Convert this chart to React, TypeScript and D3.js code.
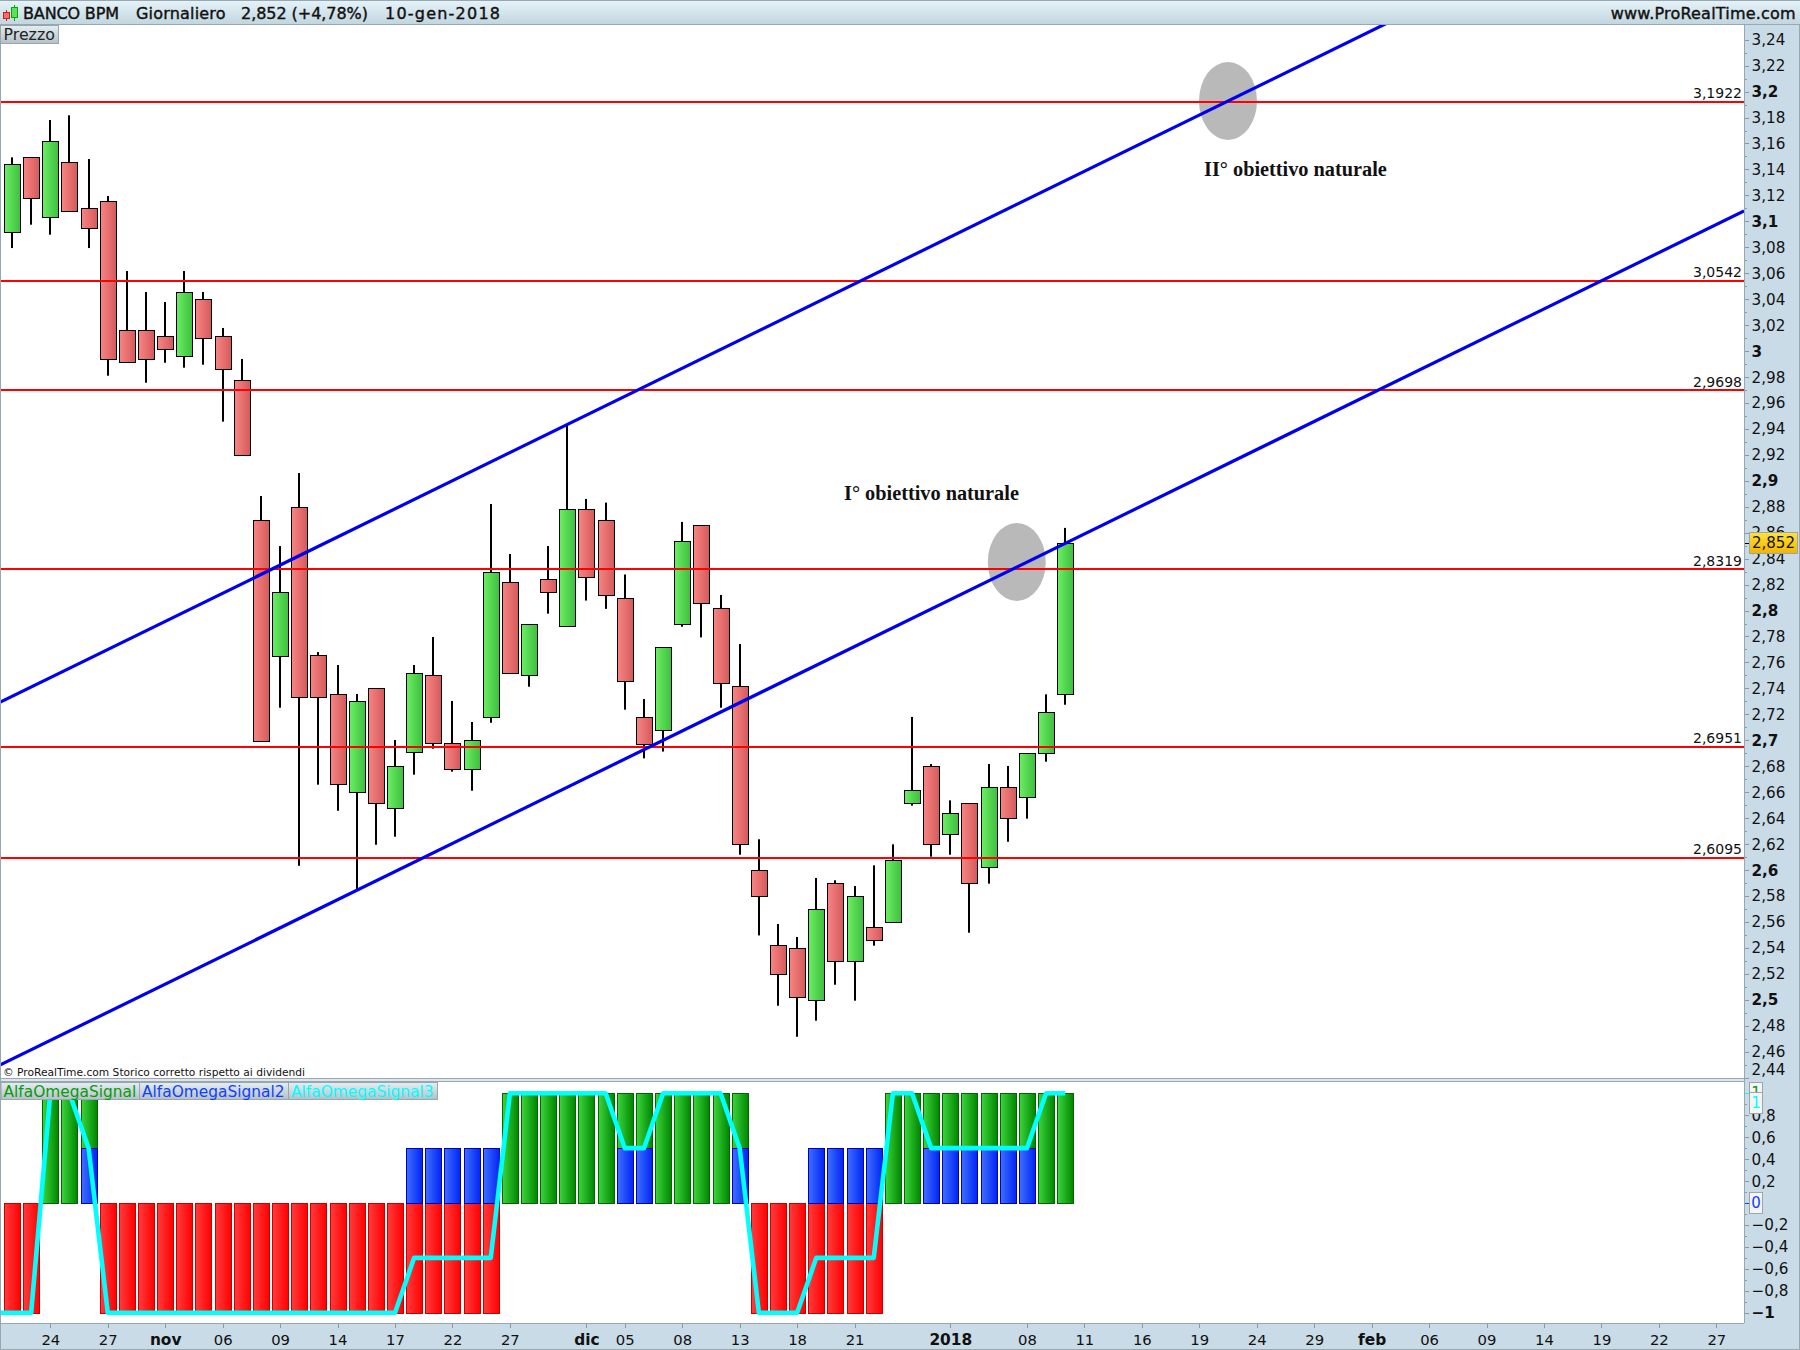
import React from "react";
import * as d3 from "d3";

const opens = [3.0915,3.1493,3.1036,3.1455,3.11,3.1154,3.016,3.016,3.0114,2.996,3.0399,3.0114,2.9775,2.8696,2.7652,2.8796,2.7655,2.7354,2.6599,2.7401,2.6476,2.6912,2.7501,2.6977,2.6776,2.7177,2.8218,2.7501,2.8241,2.7881,2.878,2.8695,2.8095,2.7178,2.7078,2.7894,2.8659,2.8016,2.7415,2.5999,2.542,2.5397,2.4996,2.5898,2.5296,2.5559,2.5597,2.6514,2.6799,2.6275,2.6514,2.6021,2.6638,2.6561,2.69,2.7354];
const closes = [3.144,3.1178,3.1617,3.1077,3.0951,2.9937,2.9913,2.9937,3.0014,3.0453,3.0098,2.9859,2.9197,2.6997,2.8141,2.7336,2.7336,2.6661,2.7301,2.6514,2.6799,2.7516,2.6977,2.6776,2.7,2.8295,2.7516,2.7894,2.8141,2.8783,2.8256,2.8116,2.7455,2.6974,2.7717,2.8534,2.8055,2.744,2.6201,2.5798,2.5196,2.5019,2.5697,2.5296,2.5798,2.5458,2.6075,2.6615,2.6198,2.6437,2.5898,2.6638,2.6399,2.69,2.7216,2.852];
const highs = [3.1493,3.1493,3.1781,3.1817,3.148,3.1195,3.0617,3.0455,3.0378,3.0617,3.0455,3.0178,2.9939,2.8883,2.8497,2.906,2.768,2.758,2.7357,2.7401,2.7002,2.758,2.7796,2.7303,2.7141,2.8821,2.8436,2.7894,2.8497,2.9432,2.886,2.8832,2.8278,2.7318,2.7717,2.8683,2.8659,2.812,2.7742,2.6237,2.5584,2.5484,2.5939,2.5921,2.5877,2.6036,2.6198,2.718,2.6817,2.6537,2.6514,2.6817,2.6802,2.69,2.7354,2.8637];
const lows = [3.0794,3.0974,3.0897,3.1077,3.0794,2.981,2.9913,2.9756,2.991,2.9872,2.9895,2.9456,2.9197,2.6997,2.7251,2.6033,2.6658,2.6457,2.5846,2.6195,2.6257,2.6735,2.6935,2.6758,2.6611,2.7135,2.7516,2.7413,2.7976,2.7881,2.8077,2.8013,2.7236,2.6861,2.6913,2.7875,2.7793,2.7251,2.6118,2.5496,2.4954,2.4715,2.4839,2.5116,2.4993,2.5417,2.5597,2.6496,2.6103,2.6118,2.5517,2.5895,2.6218,2.6396,2.6835,2.7274];

const signal1 = [-1,-1,1,1,1,-1,-1,-1,-1,-1,-1,-1,-1,-1,-1,-1,-1,-1,-1,-1,-1,-1,-1,-1,-1,-1,1,1,1,1,1,1,1,1,1,1,1,1,1,-1,-1,-1,-1,-1,-1,-1,1,1,1,1,1,1,1,1,1,1];
const signal2 = [0,0,0,0,0.5,0,0,0,0,0,0,0,0,0,0,0,0,0,0,0,0,0.5,0.5,0.5,0.5,0.5,0,0,0,0,0,0,0.5,0.5,0,0,0,0,0.5,0,0,0,0.5,0.5,0.5,0.5,0,0,0.5,0.5,0.5,0.5,0.5,0.5,0,0];
const signal3 = [-1,-1,1,1,0.5,-1,-1,-1,-1,-1,-1,-1,-1,-1,-1,-1,-1,-1,-1,-1,-1,-0.5,-0.5,-0.5,-0.5,-0.5,1,1,1,1,1,1,0.5,0.5,1,1,1,1,0.5,-1,-1,-1,-0.5,-0.5,-0.5,-0.5,1,1,0.5,0.5,0.5,0.5,0.5,0.5,1,1];

const levels = [3.1922,3.0542,2.9698,2.8319,2.6951,2.6095];
const levelLabels = ["3,1922","3,0542","2,9698","2,8319","2,6951","2,6095"];
const trendUpper = [[-0.627,2.7293],[73,3.2614]];
const trendLower = [[-0.627,2.4497],[90.45,3.108]];
const targets = [[52.47,2.8374],[63.5,3.1928]];
const notes = ["I° obiettivo naturale","II° obiettivo naturale"];
const noteAnchors = [[43.45,2.885],[62.25,3.135]];

const priceTicks = [3.24,3.22,3.2,3.18,3.16,3.14,3.12,3.1,3.08,3.06,3.04,3.02,3,2.98,2.96,2.94,2.92,2.9,2.88,2.86,2.84,2.82,2.8,2.78,2.76,2.74,2.72,2.7,2.68,2.66,2.64,2.62,2.6,2.58,2.56,2.54,2.52,2.5,2.48,2.46,2.44];
const signalTicks = [0.8,0.6,0.4,0.2,0,-0.2,-0.4,-0.6,-0.8,-1];
const xTickBars = [2,5,8,11,14,17,20,23,26,30,32,35,38,41,44,49,53,56,59,62,65,68,71,74,77,80,83,86,89];
const xTickLabels = ["24","27","nov","06","09","14","17","22","27","dic","05","08","13","18","21","2018","08","11","16","19","24","29","feb","06","09","14","19","22","27"];
const boldX = new Set(["nov","dic","2018","feb"]);
const headerTexts = ["BANCO BPM","Giornaliero","2,852 (+4,78%)","10-gen-2018"];
const headerX = [23,136,241,385];
const headerW = [96,89.5,127,115];

const W = 1800, H = 1350, PR = 1744, PT = 25, PB = 1078, IT = 1082, IB = 1323;
const FONT = "'DejaVu Sans', sans-serif";
const INK = "#111";

const x = d3.scaleLinear().domain([0, 89]).range([12, 1716.3]);
const y = d3.scaleLinear().domain([3.1922, 2.6095]).range([101.7, 857.7]);
const s = d3.scaleLinear().domain([1, -1]).range([1093.3, 1312.7]);
const cx = (i: number) => Math.round(x(i));
const comma = (v: number) => String(+v.toFixed(2)).replace(".", ",").replace("-", "−");

const linePath = d3.line<number[]>().x((d) => x(d[0])).y((d) => y(d[1]));
const signalPath = d3.line<number>().x((_, i) => (i === 0 ? 0 : x(i - 1))).y((d) => s(d));

function Grad({ id, a, b, vertical = false }: any) {
  return (
    <linearGradient id={id} x1="0" y1="0" x2={vertical ? 0 : 1} y2={vertical ? 1 : 0}>
      <stop offset="0" stopColor={a} />
      <stop offset="1" stopColor={b} />
    </linearGradient>
  );
}

function HistBar({ i, v, fill, stroke }: any) {
  const top = Math.round(s(Math.max(v, 0)));
  const bot = Math.round(s(Math.min(v, 0)));
  return <rect x={cx(i) - 7.5} y={top + 0.5} width={16} height={bot - top} fill={fill} stroke={stroke} strokeWidth={1} shapeRendering="crispEdges" />;
}

function Tag({ x0, y0, w, h, fill, text, color }: any) {
  return (
    <g>
      <rect x={x0 + 0.5} y={y0 + 0.5} width={w} height={h} fill={fill} stroke="#9aa6ae" />
      <text x={x0 + w / 2 + 0.5} y={y0 + h / 2 + 5.5} textAnchor="middle" fontSize={15} fontFamily={FONT} fill={color}>{text}</text>
    </g>
  );
}

export default function App() {
  const lastY = y(closes[closes.length - 1]);
  return (
    <svg width={W} height={H} viewBox={`0 0 ${W} ${H}`} style={{ position: "fixed", left: 0, top: 0, display: "block", background: "#fff" }}>
      <defs>
        <Grad id="cRed" a="#f88484" b="#d45a5a" />
        <Grad id="cGreen" a="#6cee64" b="#3ebe3e" />
        <Grad id="hRed" a="#ff3c3c" b="#ff0000" />
        <Grad id="hGreen" a="#3cd43c" b="#008600" />
        <Grad id="hBlue" a="#3e70ff" b="#0024f4" />
        <Grad id="head" a="#e6f4f9" b="#c2d6df" vertical />
        <Grad id="legend" a="#e4eef2" b="#b4c0c8" vertical />
        <Grad id="gold" a="#ffe23a" b="#f4b400" vertical />
        <clipPath id="pricePlot"><rect x={1} y={PT} width={PR - 1} height={PB - PT} /></clipPath>
        <clipPath id="sigPlot"><rect x={1} y={IT} width={PR - 1} height={IB - IT} /></clipPath>
      </defs>

      {/* frame */}
      <rect x={0} y={0} width={W} height={H} fill="#c9dbe6" />
      <rect x={1} y={PT} width={PR - 1} height={PB - PT} fill="#fff" />
      <rect x={1} y={IT} width={PR - 1} height={IB - IT} fill="#fff" />
      <rect x={0} y={PB} width={PR} height={4} fill="#dfe6ea" />
      <rect x={0} y={PB} width={PR} height={1} fill="#97a8b2" />
      <rect x={0} y={IT - 1} width={PR} height={1} fill="#97a8b2" />
      <rect x={0} y={IB} width={PR} height={1} fill="#97a8b2" />
      <rect x={PR} y={PT} width={1} height={IB - PT} fill="#97a8b2" />
      <rect x={0} y={0} width={1} height={H} fill="#97a8b2" />
      <rect x={W - 1} y={0} width={1} height={H} fill="#97a8b2" />
      <rect x={0} y={H - 1} width={W} height={1} fill="#97a8b2" />

      {/* header */}
      <rect x={0} y={0} width={W} height={24} fill="url(#head)" />
      <rect x={0} y={0} width={W} height={1} fill="#97a8b2" />
      <rect x={0} y={24} width={W} height={1} fill="#97a8b2" />
      <g shapeRendering="crispEdges">
        <rect x={6} y={10} width={1} height={11} fill="#c22" />
        <rect x={3.5} y={12.5} width={6} height={6} fill="#f07070" stroke="#c22" />
        <rect x={14} y={5} width={1} height={16} fill="#0a0" />
        <rect x={11.5} y={7.5} width={6} height={10} fill="#5ee05e" stroke="#0a0" />
      </g>
      <g fontFamily={FONT} fontSize={16} fill={INK} stroke={INK} strokeWidth={0.4}>
        {headerTexts.map((t, k) => (
          <text key={t} x={headerX[k]} y={18.5} textLength={headerW[k]} lengthAdjust="spacing">{t}</text>
        ))}
        <text x={1795.7} y={18.5} textAnchor="end" textLength={185} lengthAdjust="spacing">www.ProRealTime.com</text>
      </g>

      {/* target ellipses */}
      {targets.map((t, k) => (
        <ellipse key={k} cx={x(t[0])} cy={y(t[1])} rx={29} ry={39} fill="#b9b9b9" />
      ))}

      {/* candles */}
      {opens.map((o, i) => {
        const c = closes[i];
        const up = c >= o;
        const top = Math.round(y(Math.max(o, c)));
        const bot = Math.round(y(Math.min(o, c)));
        return (
          <g key={i}>
            <rect x={cx(i) - 1} y={y(highs[i])} width={2} height={y(lows[i]) - y(highs[i])} fill="#000" />
            <rect x={cx(i) - 7.5} y={top + 0.5} width={16} height={bot - top} fill={up ? "url(#cGreen)" : "url(#cRed)"} stroke="#000" strokeWidth={1} shapeRendering="crispEdges" />
          </g>
        );
      })}

      {/* horizontal levels */}
      {levels.map((v, k) => (
        <g key={k}>
          <rect x={1} y={Math.round(y(v)) - 1} width={PR - 1} height={2} fill="#ff0000" />
          <text x={1742} y={y(v) - 3.5} textAnchor="end" fontSize={14} fontFamily={FONT} fill={INK}>{levelLabels[k]}</text>
        </g>
      ))}

      {/* channel */}
      <g clipPath="url(#pricePlot)" fill="none" stroke="#0000f0" strokeWidth={3.2}>
        <path d={linePath(trendUpper) as string} />
        <path d={linePath(trendLower) as string} />
      </g>

      {/* annotations */}
      {notes.map((t, k) => (
        <text key={k} x={x(noteAnchors[k][0])} y={y(noteAnchors[k][1])} fontFamily="'Liberation Serif', serif" fontWeight={700} fontSize={20.3} fill={INK}>{t}</text>
      ))}

      <text x={3} y={1076} fontFamily={FONT} fontSize={11.3} fill={INK} textLength={302} lengthAdjust="spacingAndGlyphs">© ProRealTime.com  Storico corretto rispetto ai dividendi</text>

      {/* Prezzo */}
      <rect x={0.5} y={25.5} width={58} height={18} fill="url(#legend)" stroke="#9aa6ae" />
      <text x={3.5} y={40} fontFamily={FONT} fontSize={15.8} fill="#222">Prezzo</text>

      {/* indicator bars */}
      <g clipPath="url(#sigPlot)">
        {signal1.map((v, i) => (
          <HistBar key={i} i={i} v={v} fill={v > 0 ? "url(#hGreen)" : "url(#hRed)"} stroke={v > 0 ? "#006800" : "#c80000"} />
        ))}
        {signal2.map((v, i) => (v !== 0 ? <HistBar key={i} i={i} v={v} fill="url(#hBlue)" stroke="#0000b4" /> : null))}
        <path d={signalPath([-1, ...signal3]) as string} fill="none" stroke="#00ffff" strokeWidth={4.6} strokeLinejoin="round" />
      </g>

      {/* indicator legend */}
      {[["AlfaOmegaSignal", 1, 138.5, "#0a9a0a"], ["AlfaOmegaSignal2", 139.5, 149, "#1040ff"], ["AlfaOmegaSignal3", 288.5, 149, "#00ffff"]].map(([t, x0, w, col]: any) => (
        <g key={t}>
          <rect x={x0} y={1082.5} width={w} height={17} fill="url(#legend)" stroke="#9aa6ae" />
          <text x={x0 + 2.5} y={1097} fontFamily={FONT} fontSize={15.4} fill={col}>{t}</text>
        </g>
      ))}

      {/* price axis */}
      {priceTicks.map((v) => (
        <rect key={v} x={PR + 1} y={Math.round(y(v))} width={4} height={1} fill="#8a9aa5" />
      ))}
      {priceTicks.slice(0, -1).map((v) => (
        <rect key={v} x={PR + 1} y={Math.round(y(v - 0.01))} width={2} height={1} fill="#8a9aa5" />
      ))}
      {priceTicks.map((v) => {
        const major = Math.abs(v * 10 - Math.round(v * 10)) < 1e-6;
        return (
          <text key={v} x={1751.5} y={Math.min(y(v), 1069) + 5.5} fontFamily={FONT} fontSize={15.2} fontWeight={major ? 700 : 400} fill={INK}>{comma(v)}</text>
        );
      })}
      <rect x={PR + 1} y={Math.round(lastY)} width={4} height={1} fill="#000" />
      <Tag x0={1749} y0={532} w={48} h={21} fill="url(#gold)" text="2,852" color="#111" />

      {/* signal axis */}
      {d3.range(-10, 11).map((k) => (
        <rect key={k} x={PR + 1} y={Math.round(s(k / 10))} width={k % 2 === 0 ? 4 : 2} height={1} fill="#8a9aa5" />
      ))}
      {signalTicks.map((v) => (
        <text key={v} x={1751.5} y={s(v) + 5.5} fontFamily={FONT} fontSize={15.2} fontWeight={v === -1 ? 700 : 400} fill={INK}>{comma(v)}</text>
      ))}
      <rect x={PR + 1} y={Math.round(s(1))} width={4} height={1} fill="#00ffff" />
      <rect x={PR + 1} y={Math.round(s(0))} width={4} height={1} fill="#1040ff" />
      <Tag x0={1749} y0={1082} w={13} h={21} fill="#f4f4f4" text="1" color="#0a9a0a" />
      <Tag x0={1749} y0={1092} w={13} h={21} fill="#f4f4f4" text="1" color="#00ffff" />
      <Tag x0={1749} y0={1192} w={13} h={21} fill="#f4f4f4" text="0" color="#1040ff" />

      {/* time axis */}
      {xTickBars.map((b, k) => (
        <g key={k}>
          <rect x={Math.round(x(b))} y={IB + 1} width={1} height={4} fill="#8a9aa5" />
          <text x={x(b) + 0.5} y={1345} textAnchor="middle" fontFamily={FONT} fontSize={boldX.has(xTickLabels[k]) ? 15.4 : 14.8} fontWeight={boldX.has(xTickLabels[k]) ? 700 : 400} fill={INK}>{xTickLabels[k]}</text>
        </g>
      ))}
    </svg>
  );
}
